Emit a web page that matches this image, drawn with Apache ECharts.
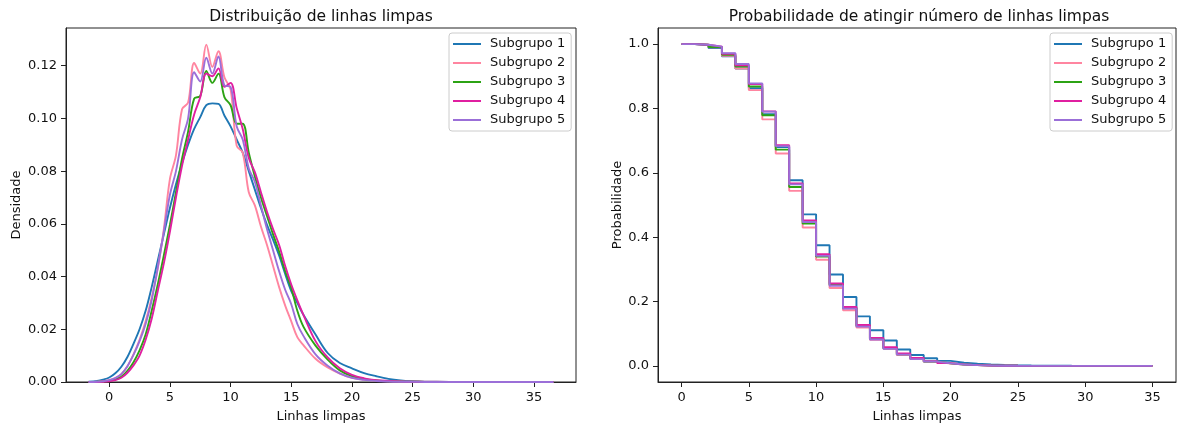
<!DOCTYPE html>
<html>
<head>
<meta charset="utf-8">
<script src="https://cdn.jsdelivr.net/npm/echarts@6/dist/echarts.min.js"></script>
<style>html,body{margin:0;padding:0;background:#fff}#c{width:1177px;height:428px}</style>
</head>
<body>
<div id="c"></div>
<script>
// ---- data ----
const seriesNames = ['Subgrupo 1', 'Subgrupo 2', 'Subgrupo 3', 'Subgrupo 4', 'Subgrupo 5'];
const colors = ['#1f77b4', '#ff85a0', '#2ca314', '#e01fa0', '#9b6fd8'];

// KDE sample positions (Linhas limpas)
const kdeX = [-1.7,-1,-0.5,0,0.5,1,1.5,2,2.5,3,3.5,4,4.5,5,5.5,6,6.5,7,7.5,8,8.5,9,9.5,10,10.5,11,11.5,12,12.5,13,13.5,14,14.5,15,15.5,16,17,18,19,20,21,22,23,24,25,26,28,30,33,36.6];
const dens1 = [0.0001,0.0004,0.0009,0.0017,0.0033,0.0058,0.0095,0.0145,0.020,0.027,0.036,0.046,0.056,0.066,0.075,0.083,0.090,0.096,0.1005,0.105,0.1057,0.1055,0.101,0.097,0.092,0.087,0.080,0.073,0.066,0.0596,0.054,0.048,0.041,0.0345,0.030,0.0255,0.018,0.011,0.0072,0.0052,0.0034,0.0022,0.0012,0.0006,0.0003,0.00015,0.00005,0.00002,0,0];
const dens2 = [0,0.0001,0.0003,0.0007,0.0015,0.003,0.006,0.0105,0.016,0.023,0.032,0.043,0.058,0.077,0.086,0.1035,0.106,0.121,0.117,0.128,0.1195,0.1255,0.1155,0.111,0.0897,0.087,0.072,0.067,0.059,0.052,0.044,0.036,0.029,0.023,0.017,0.014,0.0088,0.0055,0.0032,0.0016,0.0009,0.0005,0.0003,0.0002,0.0001,0.0001,0.00005,0.00003,0.00003,0];
const dens3 = [0,0.0001,0.0002,0.0004,0.001,0.002,0.0042,0.0075,0.012,0.018,0.027,0.037,0.048,0.0596,0.072,0.0847,0.095,0.1075,0.1085,0.118,0.1135,0.117,0.108,0.105,0.098,0.098,0.087,0.078,0.070,0.063,0.056,0.0495,0.042,0.0357,0.027,0.021,0.0138,0.0085,0.0044,0.0022,0.0011,0.0006,0.0003,0.0002,0.0001,0.00005,0,0,0,0];
const dens4 = [0,0,0.0001,0.0003,0.0007,0.0016,0.0035,0.0063,0.010,0.016,0.024,0.0345,0.045,0.057,0.070,0.082,0.092,0.1015,0.108,0.117,0.116,0.119,0.112,0.1135,0.104,0.096,0.085,0.0796,0.072,0.0646,0.058,0.052,0.044,0.037,0.031,0.0255,0.0155,0.0093,0.0052,0.0027,0.0014,0.0007,0.0004,0.0002,0.0001,0.00005,0.00003,0.00002,0.00002,0];
const dens5 = [0,0.0001,0.0003,0.0007,0.0015,0.003,0.006,0.0103,0.0155,0.022,0.031,0.0435,0.057,0.071,0.080,0.092,0.100,0.1175,0.114,0.123,0.117,0.1235,0.1125,0.112,0.097,0.092,0.081,0.076,0.067,0.058,0.050,0.042,0.035,0.0295,0.022,0.0175,0.0105,0.0062,0.0033,0.0016,0.0008,0.0004,0.0002,0.0001,0.00005,0,0,0,0,0];

// survival P(X >= k)
const ks = [0,1,2,3,4,5,6,7,8,9,10,11,12,13,14,15,16,17,18,19,20,21,22,23,24,25,26,27,28,29,30,31,32,33,34,35];
const surv1 = [1.0,0.997,0.988,0.962,0.924,0.863,0.782,0.680,0.577,0.471,0.375,0.284,0.214,0.154,0.111,0.079,0.051,0.034,0.024,0.0155,0.010,0.007,0.0045,0.003,0.002,0.0012,0.0008,0.0005,0.0003,0.0002,0.0001,0,0,0,0,0];
const surv2 = [1.0,0.998,0.990,0.964,0.924,0.857,0.766,0.660,0.544,0.430,0.330,0.242,0.173,0.119,0.081,0.053,0.034,0.021,0.013,0.0075,0.0042,0.0024,0.0013,0.0007,0.0004,0.0002,0.0001,0.0001,0,0,0,0,0,0,0,0];
const surv3 = [1.0,0.998,0.991,0.967,0.930,0.868,0.779,0.672,0.556,0.442,0.340,0.252,0.180,0.124,0.084,0.055,0.036,0.0225,0.0135,0.0078,0.0043,0.0023,0.0012,0.0006,0.0003,0.0002,0.0001,0,0,0,0,0,0,0,0,0];
const surv4 = [1.0,0.998,0.992,0.970,0.934,0.876,0.791,0.686,0.567,0.452,0.347,0.256,0.183,0.127,0.087,0.058,0.039,0.0245,0.0148,0.0085,0.0047,0.0025,0.0013,0.0007,0.0004,0.0002,0.0001,0,0,0,0,0,0,0,0,0];
const surv5 = [1.0,0.998,0.992,0.972,0.938,0.878,0.790,0.683,0.564,0.447,0.342,0.249,0.178,0.122,0.082,0.053,0.035,0.021,0.0135,0.0078,0.0045,0.0025,0.0013,0.0007,0.0003,0.0002,0.0001,0,0,0,0,0,0,0,0,0];

const xTicks = [0,5,10,15,20,25,30,35];
const densTicks = [0,0.02,0.04,0.06,0.08,0.10,0.12];
const probTicks = [0,0.2,0.4,0.6,0.8,1.0];

// ---- chart ----
const FONT = 'DejaVu Sans';
const dens = [dens1, dens2, dens3, dens4, dens5];
const surv = [surv1, surv2, surv3, surv4, surv5];

function axisCommon(ticks, fmt) {
  return {
    axisLine: {show: true, onZero: false, lineStyle: {color: '#222', width: 1}},
    axisTick: {show: true, inside: false, length: 5, lineStyle: {color: '#222', width: 1}, customValues: ticks},
    axisLabel: {color: '#111', fontFamily: FONT, fontSize: 13, margin: 9, customValues: ticks, formatter: fmt},
    splitLine: {show: false},
    nameTextStyle: {color: '#111', fontFamily: FONT, fontSize: 13},
  };
}

const chart = echarts.init(document.getElementById('c'), null, {renderer: 'canvas'});
const series = [];
seriesNames.forEach((n, i) => {
  series.push({
    name: n, type: 'line', xAxisIndex: 0, yAxisIndex: 0,
    data: kdeX.map((x, j) => [x, dens[i][j]]),
    showSymbol: false, smooth: 0.35, color: colors[i],
    lineStyle: {width: 1.9, color: colors[i]}, z: 2 + i
  });
});
seriesNames.forEach((n, i) => {
  series.push({
    name: n, type: 'line', xAxisIndex: 1, yAxisIndex: 1,
    data: ks.map((k, j) => [k, surv[i][j]]),
    showSymbol: false, step: 'end', color: colors[i],
    lineStyle: {width: 1.9, color: colors[i]}, z: 2 + i
  });
});

const legendCommon = {
  orient: 'vertical', top: 33, data: seriesNames,
  icon: 'rect', itemWidth: 28, itemHeight: 2, itemGap: 5,
  padding: [4, 6, 4, 4],
  borderColor: '#cccccc', borderWidth: 1, borderRadius: 3, backgroundColor: 'rgba(255,255,255,0.8)',
  textStyle: {color: '#111', fontFamily: FONT, fontSize: 13, lineHeight: 14, padding: [0, 0, 0, 4]},
  selectedMode: false
};

chart.setOption({
  animation: false,
  backgroundColor: '#fff',
  title: [
    {text: 'Distribuição de linhas limpas', left: 316, top: 4, textAlign: 'center',
     textStyle: {fontFamily: FONT, fontSize: 15.5, fontWeight: 'normal', color: '#111'}},
    {text: 'Probabilidade de atingir número de linhas limpas', left: 914, top: 4, textAlign: 'center',
     textStyle: {fontFamily: FONT, fontSize: 15.5, fontWeight: 'normal', color: '#111'}}
  ],
  legend: [
    Object.assign({}, legendCommon, {left: 449}),
    Object.assign({}, legendCommon, {left: 1050})
  ],
  grid: [
    {left: 66, right: 601, top: 28, bottom: 43, show: true, borderColor: '#222', borderWidth: 1, containLabel: false},
    {left: 658, right: 1, top: 28, bottom: 43, show: true, borderColor: '#222', borderWidth: 1, containLabel: false}
  ],
  xAxis: [
    Object.assign(axisCommon(xTicks, v => String(v)), {type: 'value', gridIndex: 0, min: -3.56, max: 38.46,
      name: 'Linhas limpas', nameLocation: 'middle', nameGap: 28}),
    Object.assign(axisCommon(xTicks, v => String(v)), {type: 'value', gridIndex: 1, min: -1.75, max: 36.75,
      name: 'Linhas limpas', nameLocation: 'middle', nameGap: 28})
  ],
  yAxis: [
    Object.assign(axisCommon(densTicks, v => v.toFixed(2)), {type: 'value', gridIndex: 0, min: 0, max: 0.1343,
      name: 'Densidade', nameLocation: 'middle', nameGap: 43}),
    Object.assign(axisCommon(probTicks, v => v.toFixed(1)), {type: 'value', gridIndex: 1, min: -0.05, max: 1.05,
      name: 'Probabilidade', nameLocation: 'middle', nameGap: 33})
  ],
  series: series
});
</script>
</body>
</html>
